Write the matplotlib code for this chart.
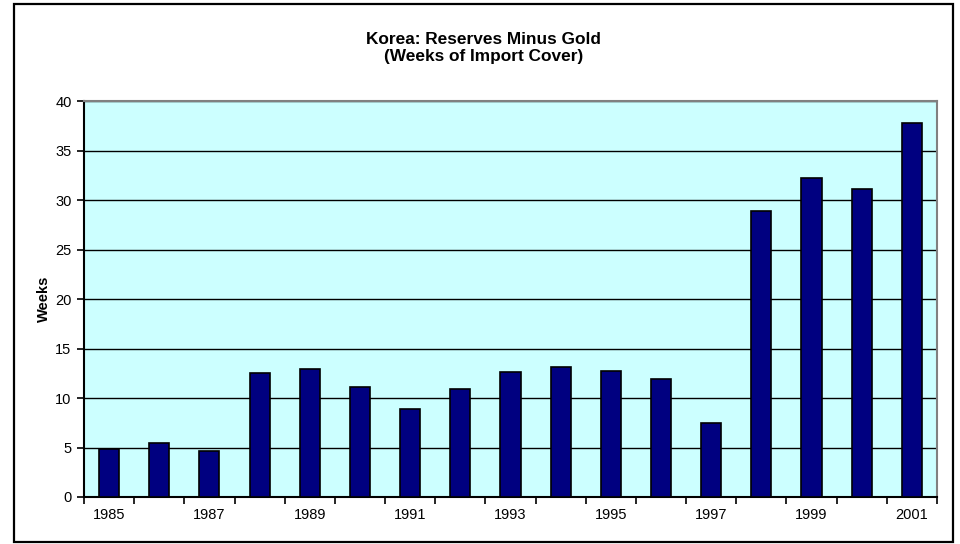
import matplotlib.pyplot as plt
import numpy as np
from matplotlib.patches import Rectangle

plt.rcParams['font.family'] = ['Liberation Sans', 'DejaVu Sans']

# years and weeks of import cover
years = [1985, 1986, 1987, 1988, 1989, 1990, 1991, 1992, 1993,
         1994, 1995, 1996, 1997, 1998, 1999, 2000, 2001]
weeks = [4.8, 5.5, 4.6, 12.5, 12.9, 11.1, 8.9, 10.9, 12.6,
         13.1, 12.7, 11.9, 7.5, 28.9, 32.2, 31.1, 37.8]
label_years = [str(y) if (y - 1985) % 2 == 0 else '' for y in years]

fig = plt.figure(figsize=(9.6, 5.44), dpi=100)
ax = fig.add_axes([0.0875, 0.0864, 0.8885, 0.7279])

# outer frame round the whole chart
fig.patches.append(Rectangle((0.0145, 0.003), 0.978, 0.99, transform=fig.transFigure,
                             fill=False, edgecolor='black', linewidth=1.6))

pos = np.arange(len(years))
ax.set_facecolor('#CCFFFF')
ax.bar(pos, weeks, width=0.4, color='#000080', edgecolor='black', linewidth=1.2, zorder=3)

ax.set_ylim(0, 40)
ax.set_yticks(range(0, 41, 5))
ax.yaxis.grid(True, color='black', linewidth=1.0, zorder=1)
ax.set_xlim(-0.5, len(years) - 0.5)

# ticks between categories, labels under bars
ax.set_xticks(np.arange(-0.5, len(years), 1.0))
ax.set_xticklabels([])
ax.set_xticks(pos, minor=True)
ax.set_xticklabels(label_years, minor=True)
ax.tick_params(axis='x', which='major', direction='out', length=5, width=1.2)
ax.tick_params(axis='x', which='minor', length=0, pad=8, labelsize=10.5)
ax.tick_params(axis='y', direction='out', length=5, width=1.2, labelsize=10.5, pad=4)

for s in ['left', 'bottom']:
    ax.spines[s].set_color('black')
    ax.spines[s].set_linewidth(1.5)
for s in ['top', 'right']:
    ax.spines[s].set_color('#808080')
    ax.spines[s].set_linewidth(1.5)

fig.text(0.046, 0.45, 'Weeks', rotation=90, fontsize=10.5, fontweight='bold',
         ha='center', va='center')
fig.text(0.504, 0.912, 'Korea: Reserves Minus Gold\n(Weeks of Import Cover)',
         fontsize=12.4, fontweight='bold', ha='center', va='center', linespacing=1.15)

fig.savefig('out.png', dpi=100)
